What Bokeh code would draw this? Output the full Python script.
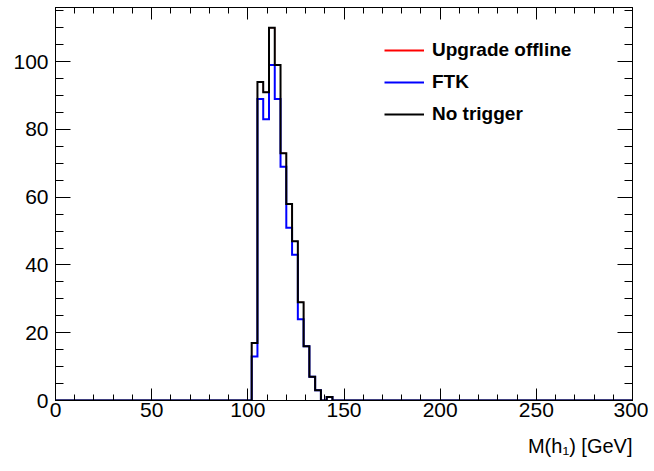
import numpy as np
from bokeh.plotting import figure
from bokeh.models import (Range1d, SingleIntervalTicker, LinearAxis, Legend, LegendItem,
                          Title, ColumnDataSource)
from bokeh.embed import file_html
from bokeh.resources import INLINE

# ---- data ----
bin_width = 3.0
x_min, x_max = 0.0, 300.0
first_edge = 102.0
upgrade_offline = [17, 94, 91, 110, 99, 73, 58, 47, 29, 16, 7, 3, 0, 1]
ftk = [13, 89, 83, 99, 89, 69, 51, 43, 24, 16, 7, 3, 0, 1]
no_trigger = [17, 94, 91, 110, 99, 73, 58, 47, 29, 16, 7, 3, 0, 1]
series_names = ["Upgrade offline", "FTK", "No trigger"]
series_colors = ["#ff0000", "#0000ff", "#000000"]
x_title = "M(h\u2081) [GeV]"
x_ticks_major = 50
y_ticks_major = 20

edges = np.arange(x_min, x_max + bin_width / 2, bin_width)
nbins = len(edges) - 1
i0 = int(round((first_edge - x_min) / bin_width))


def full_counts(vals):
    c = np.zeros(nbins)
    c[i0:i0 + len(vals)] = vals
    return c


FONT = "Liberation Sans"

p = figure(width=648, height=470, output_backend="svg", toolbar_location=None,
           x_range=Range1d(x_min, x_max), y_range=Range1d(0, 116),
           min_border_left=55, min_border_right=16, min_border_top=7, min_border_bottom=70,
           x_axis_location=None, y_axis_location=None)
p.grid.visible = False
p.outline_line_color = "black"
p.outline_line_width = 1
p.background_fill_color = "white"
p.border_fill_color = "white"

xt = SingleIntervalTicker(interval=x_ticks_major, num_minor_ticks=5)
yt = SingleIntervalTicker(interval=y_ticks_major, num_minor_ticks=4)


def style_axis(ax, tick_major, tick_minor, show_labels):
    ax.major_tick_in = tick_major
    ax.major_tick_out = 0
    ax.minor_tick_in = tick_minor
    ax.minor_tick_out = 0
    ax.axis_line_color = "black"
    ax.major_tick_line_color = "black"
    ax.minor_tick_line_color = "black"
    ax.major_tick_line_width = 1
    ax.minor_tick_line_width = 1
    if show_labels:
        ax.major_label_text_font = FONT
        ax.major_label_text_font_size = "21px"
        ax.major_label_text_color = "black"
    else:
        ax.major_label_text_font_size = "0px"
        ax.major_label_standoff = 0
        ax.major_label_text_alpha = 0


xb = LinearAxis(ticker=xt)
style_axis(xb, 12, 6, True)
xb.major_label_standoff = 2
p.add_layout(xb, "below")

xa = LinearAxis(ticker=xt)
style_axis(xa, 12, 6, False)
p.add_layout(xa, "above")

yl = LinearAxis(ticker=yt)
style_axis(yl, 15, 8, True)
yl.major_label_standoff = 7
p.add_layout(yl, "left")

yr = LinearAxis(ticker=yt)
style_axis(yr, 15, 8, False)
p.add_layout(yr, "right")

data_widths = [1, 2, 2]
legend_renderers = []
for vals, name, col, lw in zip([upgrade_offline, ftk, no_trigger], series_names,
                               series_colors, data_widths):
    c = full_counts(vals)
    src = ColumnDataSource(dict(x=edges, y=np.append(c, c[-1])))
    r = p.step("x", "y", source=src, mode="after", line_color=col, line_width=lw,
               line_join="miter")
    if lw != 2:
        # legend sample drawn at the usual line width (no visible data point)
        r = p.line(x=[np.nan], y=[np.nan], line_color=col, line_width=2)
    legend_renderers.append(r)

legend = Legend(items=[LegendItem(label=n, renderers=[r])
                       for n, r in zip(series_names, legend_renderers)],
                location=(329, 275), orientation="vertical")
legend.background_fill_alpha = 0
legend.border_line_alpha = 0
legend.padding = 0
legend.margin = 0
legend.spacing = 10
legend.glyph_width = 40
legend.glyph_height = 22
legend.label_height = 22
legend.label_standoff = 8
legend.label_text_font = FONT
legend.label_text_font_size = "19px"
legend.label_text_font_style = "bold"
legend.label_text_color = "black"
p.add_layout(legend, "center")

title = Title(text=x_title, align="right", text_font=FONT, text_font_size="20px",
              text_font_style="normal", text_color="black", standoff=27)
p.add_layout(title, "below")

open("out.html", "w").write(file_html(p, INLINE))
